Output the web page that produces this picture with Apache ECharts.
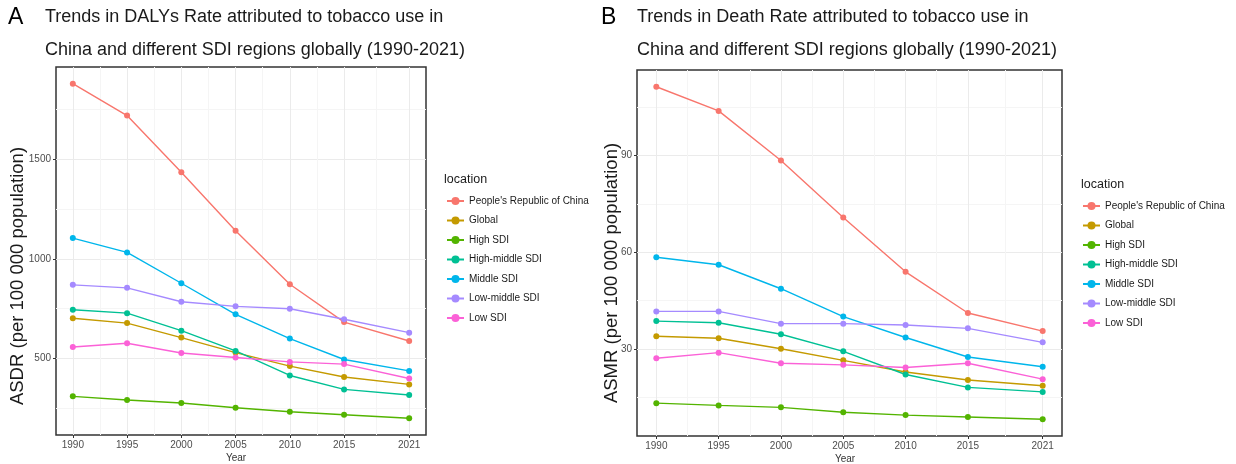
<!DOCTYPE html>
<html>
<head>
<meta charset="utf-8">
<script src="https://cdn.jsdelivr.net/npm/echarts@6/dist/echarts.min.js"></script>
<style>
html,body{margin:0;padding:0;background:#fff;}
#chart{width:1236px;height:464px;}
</style>
</head>
<body>
<div id="chart"></div>
<script>
const years = [1990, 1995, 2000, 2005, 2010, 2015, 2021];
const locations = ["People's Republic of China", "Global", "High SDI", "High-middle SDI", "Middle SDI", "Low-middle SDI", "Low SDI"];
const colors = ['#F8766D', '#C49A00', '#53B400', '#00C094', '#00B6EB', '#A58AFF', '#FB61D7'];

// ASDR (DALYs rate per 100 000)
const dalyChina      = [1880, 1720, 1435, 1142, 873, 683, 588];
const dalyGlobal     = [702, 678, 605, 530, 462, 407, 370];
const dalyHigh       = [310, 292, 277, 253, 233, 218, 200];
const dalyHighMiddle = [745, 728, 640, 538, 415, 345, 317];
const dalyMiddle     = [1105, 1033, 878, 722, 600, 495, 438];
const dalyLowMiddle  = [870, 855, 785, 762, 750, 697, 630];
const dalyLow        = [558, 577, 528, 505, 483, 472, 400];

// ASMR (Death rate per 100 000)
const deathChina      = [111.4, 103.9, 88.5, 70.8, 53.9, 41.1, 35.5];
const deathGlobal     = [33.9, 33.25, 30.0, 26.4, 22.8, 20.3, 18.5];
const deathHigh       = [13.1, 12.4, 11.8, 10.3, 9.4, 8.8, 8.1];
const deathHighMiddle = [38.6, 38.1, 34.5, 29.2, 22.0, 18.0, 16.6];
const deathMiddle     = [58.45, 56.1, 48.65, 40.0, 33.5, 27.45, 24.4];
const deathLowMiddle  = [41.6, 41.6, 37.8, 37.8, 37.4, 36.35, 32.0];
const deathLow        = [27.05, 28.8, 25.5, 25.0, 24.2, 25.5, 20.55];

// ticks
const xTicks = [1990, 1995, 2000, 2005, 2010, 2015, 2021];
const xMinor = [1992.5, 1997.5, 2002.5, 2007.5, 2012.5, 2018];
const dalyTicks = [500, 1000, 1500];
const dalyMinor = [250, 750, 1250, 1750];
const deathTicks = [30, 60, 90];
const deathMinor = [15, 45, 75, 105];

const dalySeries = [dalyChina, dalyGlobal, dalyHigh, dalyHighMiddle, dalyMiddle, dalyLowMiddle, dalyLow];
const deathSeries = [deathChina, deathGlobal, deathHigh, deathHighMiddle, deathMiddle, deathLowMiddle, deathLow];

const FONT = 'Liberation Sans, Arial, Helvetica, sans-serif';
const chart = echarts.init(document.getElementById('chart'), null, {renderer: 'canvas'});
const plain = function (v) { return String(v); };

function majorX(gridIndex) {
  return {
    type: 'value', gridIndex: gridIndex, min: 1988.45, max: 2022.55, position: 'bottom',
    axisLine: {show: false},
    axisTick: {show: true, length: 3, lineStyle: {color: '#333', width: 1}, customValues: xTicks},
    axisLabel: {show: true, customValues: xTicks, formatter: plain, color: '#4d4d4d', fontSize: 10, fontFamily: FONT, margin: 5},
    splitLine: {show: true, lineStyle: {color: '#ebebeb', width: 1}}
  };
}
function minorX(gridIndex) {
  return {
    type: 'value', gridIndex: gridIndex, min: 1988.45, max: 2022.55, position: 'bottom',
    axisLine: {show: false},
    axisTick: {show: false, customValues: xMinor},
    axisLabel: {show: false, customValues: xMinor},
    splitLine: {show: true, lineStyle: {color: '#f5f5f5', width: 1}}
  };
}
function majorY(gridIndex, min, max, ticks) {
  return {
    type: 'value', gridIndex: gridIndex, min: min, max: max, position: 'left',
    axisLine: {show: false},
    axisTick: {show: true, length: 3, lineStyle: {color: '#333', width: 1}, customValues: ticks},
    axisLabel: {show: true, customValues: ticks, formatter: plain, color: '#4d4d4d', fontSize: 10, fontFamily: FONT, margin: 5},
    splitLine: {show: true, lineStyle: {color: '#ebebeb', width: 1}}
  };
}
function minorY(gridIndex, min, max, ticks) {
  return {
    type: 'value', gridIndex: gridIndex, min: min, max: max, position: 'left',
    axisLine: {show: false},
    axisTick: {show: false, customValues: ticks},
    axisLabel: {show: false, customValues: ticks},
    splitLine: {show: true, lineStyle: {color: '#f5f5f5', width: 1}}
  };
}

const series = [];
locations.forEach(function (name, i) {
  series.push({
    name: name, type: 'line', xAxisIndex: 0, yAxisIndex: 0,
    data: years.map(function (y, k) { return [y, dalySeries[i][k]]; }),
    symbol: 'circle', symbolSize: 6, showSymbol: true,
    lineStyle: {color: colors[i], width: 1.4},
    itemStyle: {color: colors[i]},
    z: 3
  });
});
locations.forEach(function (name, i) {
  series.push({
    name: name, type: 'line', xAxisIndex: 2, yAxisIndex: 2,
    data: years.map(function (y, k) { return [y, deathSeries[i][k]]; }),
    symbol: 'circle', symbolSize: 6, showSymbol: true,
    lineStyle: {color: colors[i], width: 1.4},
    itemStyle: {color: colors[i]},
    z: 3
  });
});

const legendCommon = {
  orient: 'vertical', itemWidth: 17, itemHeight: 10, itemGap: 7.5,
  textStyle: {fontSize: 10, color: '#1a1a1a', fontFamily: FONT, lineHeight: 12},
  lineStyle: {width: 2},
  data: locations, selectedMode: false, padding: 0
};

chart.setOption({
  animation: false,
  backgroundColor: '#fff',
  textStyle: {fontFamily: FONT},
  title: [
    {text: 'A', left: 8, top: 6, padding: 0, textStyle: {fontSize: 23, fontWeight: 'normal', color: '#000', fontFamily: FONT, lineHeight: 23}},
    {text: 'Trends in DALYs Rate attributed to tobacco use in\nChina and different SDI regions globally (1990-2021)', left: 45, top: 1, padding: 0,
      textStyle: {fontSize: 18, fontWeight: 'normal', color: '#1a1a1a', fontFamily: FONT, lineHeight: 33}},
    {text: 'B', left: 601, top: 6, padding: 0, textStyle: {fontSize: 23, fontWeight: 'normal', color: '#000', fontFamily: FONT, lineHeight: 23}},
    {text: 'Trends in Death Rate attributed to tobacco use in\nChina and different SDI regions globally (1990-2021)', left: 637, top: 1, padding: 0,
      textStyle: {fontSize: 18, fontWeight: 'normal', color: '#1a1a1a', fontFamily: FONT, lineHeight: 33}}
  ],
  grid: [
    {left: 56, right: 810, top: 67, bottom: 29, show: true, borderColor: '#333', borderWidth: 1.5, backgroundColor: 'transparent', containLabel: false},
    {left: 637, right: 174, top: 70, bottom: 28, show: true, borderColor: '#333', borderWidth: 1.5, backgroundColor: 'transparent', containLabel: false}
  ],
  xAxis: [majorX(0), minorX(0), majorX(1), minorX(1)],
  yAxis: [
    majorY(0, 116, 1964, dalyTicks), minorY(0, 116, 1964, dalyMinor),
    majorY(1, 2.9, 116.6, deathTicks), minorY(1, 2.9, 116.6, deathMinor)
  ],
  legend: [
    Object.assign({left: 446, top: 195}, legendCommon),
    Object.assign({left: 1082, top: 200}, legendCommon)
  ],
  graphic: [
    {type: 'text', left: 444, top: 173, style: {text: 'location', fontSize: 12.5, fill: '#1a1a1a', fontFamily: FONT}},
    {type: 'text', left: 1081, top: 178, style: {text: 'location', fontSize: 12.5, fill: '#1a1a1a', fontFamily: FONT}},
    {type: 'text', x: 18, y: 276, rotation: Math.PI / 2, style: {text: 'ASDR (per 100 000 population)', fontSize: 18.5, fill: '#1a1a1a', fontFamily: FONT, align: 'center', verticalAlign: 'middle'}},
    {type: 'text', x: 612, y: 273, rotation: Math.PI / 2, style: {text: 'ASMR (per 100 000 population)', fontSize: 18.5, fill: '#1a1a1a', fontFamily: FONT, align: 'center', verticalAlign: 'middle'}},
    {type: 'text', x: 236, y: 458, style: {text: 'Year', fontSize: 10, fill: '#333', fontFamily: FONT, align: 'center', verticalAlign: 'middle'}},
    {type: 'text', x: 845, y: 459, style: {text: 'Year', fontSize: 10, fill: '#333', fontFamily: FONT, align: 'center', verticalAlign: 'middle'}}
  ],
  series: series
});
</script>
</body>
</html>
